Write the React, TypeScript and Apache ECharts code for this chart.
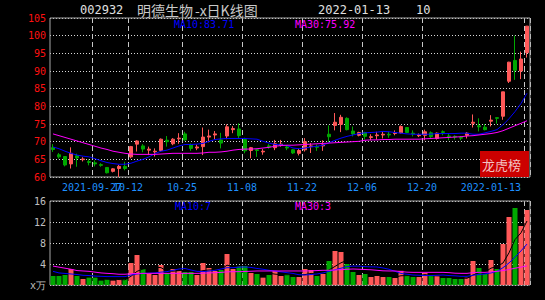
import React, { useEffect, useRef } from 'react';
import * as echarts from 'echarts';

const dates = [
  '2021-09-14','2021-09-15','2021-09-16','2021-09-17','2021-09-22','2021-09-23','2021-09-24','2021-09-27','2021-09-28','2021-09-29','2021-09-30',
  '2021-10-08','2021-10-11','2021-10-12','2021-10-13','2021-10-14','2021-10-15','2021-10-18','2021-10-19','2021-10-20','2021-10-21','2021-10-22','2021-10-25','2021-10-26','2021-10-27','2021-10-28','2021-10-29',
  '2021-11-01','2021-11-02','2021-11-03','2021-11-04','2021-11-05','2021-11-08','2021-11-09','2021-11-10','2021-11-11','2021-11-12','2021-11-15','2021-11-16','2021-11-17','2021-11-18','2021-11-19','2021-11-22','2021-11-23','2021-11-24','2021-11-25','2021-11-26','2021-11-29','2021-11-30',
  '2021-12-01','2021-12-02','2021-12-03','2021-12-06','2021-12-07','2021-12-08','2021-12-09','2021-12-10','2021-12-13','2021-12-14','2021-12-15','2021-12-16','2021-12-17','2021-12-20','2021-12-21','2021-12-22','2021-12-23','2021-12-24','2021-12-27','2021-12-28','2021-12-29','2021-12-30','2021-12-31',
  '2022-01-04','2022-01-05','2022-01-06','2022-01-07','2022-01-10','2022-01-11','2022-01-12','2022-01-13'
];

const tickDates = ['2021-09-27','2021-10-12','2021-10-25','2021-11-08','2021-11-22','2021-12-06','2021-12-20','2022-01-13'];
const tickLabels = ['2021-09-27','10-12','10-25','11-08','11-22','12-06','12-20','2022-01-13'];

const opens = [
  68.3,66.3,65.8,63.7,66.0,64.9,64.4,64.0,63.5,62.7,
  61.6,62.4,63.0,65.7,69.3,68.8,67.6,67.1,67.5,70.4,
  69.4,70.8,72.2,69.1,68.2,68.6,71.3,71.9,70.5,71.6,
  73.4,73.6,70.6,67.5,67.7,67.1,68.8,68.3,69.0,68.5,
  67.7,66.7,67.7,68.6,68.6,68.8,72.1,74.6,74.9,76.6,
  73.0,71.8,72.6,71.2,71.7,71.9,72.1,72.3,72.5,74.0,
  72.4,71.7,71.8,72.5,70.9,72.8,71.6,71.5,71.2,71.8,
  75.2,74.5,74.1,75.8,76.8,77.2,87.1,93.0,90.0,95.2
];
const closes = [
  67.8,65.7,63.4,66.7,65.4,65.1,64.1,63.7,63.3,61.2,
  62.3,63.0,62.4,68.6,70.2,67.9,67.9,67.3,70.7,70.0,
  70.7,71.0,70.5,68.1,68.5,71.3,71.6,72.2,69.6,74.2,
  73.7,71.7,67.4,68.3,67.5,67.3,68.5,69.4,69.3,68.2,
  66.8,67.5,70.0,68.8,68.4,69.1,71.4,75.5,76.9,73.4,
  72.2,72.6,71.5,71.4,71.9,72.1,71.9,72.5,74.3,72.6,
  72.2,71.9,72.8,71.4,72.4,72.6,71.4,71.3,71.0,72.4,
  75.5,74.2,73.4,76.1,76.6,84.1,92.5,90.2,93.4,102.7
];
const lows = [
  67.1,65.2,63.0,62.4,62.9,64.4,63.3,63.0,62.9,61.0,
  61.3,60.0,61.9,65.3,67.2,67.0,66.2,65.8,67.2,68.6,
  69.0,69.4,70.3,67.4,67.6,66.2,69.8,70.6,68.1,70.7,
  72.4,70.9,66.7,65.3,65.7,66.3,68.0,67.6,68.6,67.6,
  66.5,66.1,67.2,66.8,67.4,67.4,69.9,73.2,72.7,73.2,
  71.5,71.5,70.6,70.4,70.6,70.9,71.1,71.8,72.3,72.4,
  71.5,71.3,70.4,70.9,70.6,71.8,70.4,70.6,70.4,70.9,
  74.0,72.9,73.2,74.3,75.1,76.2,86.6,87.5,87.7,93.8
];
const highs = [
  69.3,66.8,65.9,68.4,66.6,65.6,65.0,64.7,63.9,62.8,
  62.5,63.4,64.3,68.8,70.4,69.3,68.6,68.1,70.9,71.6,
  71.0,72.4,72.8,69.5,69.2,74.0,73.4,73.0,72.5,74.9,
  74.4,75.2,71.1,68.5,67.9,67.9,69.3,70.5,70.5,69.0,
  67.9,68.0,71.0,69.6,69.2,70.4,74.6,78.1,77.6,76.9,
  74.3,72.8,72.8,72.1,72.8,72.8,72.8,73.2,74.6,74.1,
  73.2,72.3,73.4,72.9,72.6,73.2,72.2,71.8,71.6,72.7,
  77.7,76.6,75.0,77.5,76.9,84.1,92.6,100.0,95.5,102.7
];
const priceMa10 = [
  68.5,68.0,67.3,66.7,66.2,65.9,65.7,65.2,64.6,64.1,
  63.8,63.6,63.6,63.9,64.5,65.0,65.7,66.6,67.3,67.6,
  68.2,68.8,69.2,69.2,69.3,69.5,70.1,70.6,70.8,70.9,
  70.9,70.9,70.9,70.8,70.7,70.1,69.6,69.2,69.1,68.9,
  68.2,68.0,68.2,68.5,68.7,69.0,69.7,70.4,71.0,71.5,
  71.9,72.3,72.5,72.6,72.7,72.9,72.8,72.6,72.4,72.2,
  72.1,72.1,72.1,72.1,72.3,72.3,72.3,72.3,72.4,72.4,
  72.1,72.1,72.5,72.9,73.4,74.8,76.5,78.5,80.8,83.7
];
const priceMa30 = [
  72.2,71.7,71.2,70.7,70.2,69.7,69.2,68.7,68.2,67.8,
  67.3,67.0,66.7,66.5,66.4,66.4,66.4,66.4,66.5,66.6,
  66.7,66.7,66.7,66.7,66.7,66.8,67.0,67.0,67.1,67.3,
  67.6,67.8,67.9,67.9,68.0,68.2,68.4,68.7,68.9,69.0,
  69.0,69.1,69.2,69.3,69.4,69.5,69.6,69.7,69.8,69.9,
  70.0,70.1,70.4,70.5,70.5,70.6,70.6,70.7,70.7,70.7,
  70.7,70.7,70.8,70.9,71.0,71.1,71.2,71.3,71.4,71.6,
  71.7,71.9,72.1,72.3,72.6,73.1,73.8,74.5,75.2,75.92
];
const volumes = [
  1.71,1.71,1.9,3.05,1.71,1.14,1.4,1.4,0.83,1.02,
  0.83,1.14,1.14,4.19,5.71,3.05,2.1,1.9,3.81,2.29,
  3.05,2.67,2.48,2.48,1.9,4.19,3.24,2.67,2.86,5.9,
  3.05,3.62,3.62,2.29,2.1,1.4,1.9,2.67,1.71,2.1,
  1.52,1.52,3.05,2.86,1.71,2.1,4.57,6.48,6.29,4.0,
  2.48,1.9,2.1,1.52,1.71,1.52,1.52,1.33,2.7,1.9,
  1.52,1.52,2.29,1.71,1.71,1.33,1.33,1.14,1.14,1.4,
  4.57,3.24,2.1,4.76,3.05,7.81,12.95,14.67,11.24,14.29
];
const volMa10 = [
  2.6,2.3,2.2,2.1,2.0,1.85,1.8,1.7,1.65,1.6,
  1.6,1.6,1.6,1.9,2.1,2.2,2.25,2.3,2.45,2.55,
  2.8,3.05,3.15,2.85,2.6,2.55,2.65,2.8,3.05,3.3,
  3.3,3.4,3.43,3.35,3.15,3.0,2.8,2.65,2.5,2.35,
  2.2,1.95,1.9,2.0,2.1,2.3,2.6,2.9,3.2,3.5,
  3.6,3.6,3.5,3.45,3.43,3.25,3.0,2.6,2.2,2.05,
  1.9,1.85,1.8,1.8,1.85,1.9,1.8,1.75,1.65,1.65,
  1.85,2.0,2.1,2.3,2.6,3.3,4.2,5.3,6.5,7.8
];
const volMa30 = [
  3.6,3.4,3.2,3.0,2.75,2.67,2.6,2.45,2.3,2.22,
  2.15,2.05,2.05,2.15,2.2,2.22,2.22,2.22,2.22,2.22,
  2.22,2.22,2.22,2.22,2.22,2.25,2.3,2.35,2.4,2.5,
  2.54,2.54,2.58,2.62,2.67,2.67,2.67,2.67,2.67,2.67,
  2.67,2.67,2.67,2.7,2.75,2.8,2.8,2.85,2.92,3.0,
  3.05,3.0,2.95,2.9,2.8,2.7,2.67,2.67,2.55,2.45,
  2.41,2.41,2.41,2.41,2.41,2.41,2.35,2.25,2.22,2.22,
  2.35,2.41,2.41,2.5,2.6,2.75,2.95,3.2,3.4,3.65
];

const UP = '#ff5858';
const DOWN = '#00a800';
const MONO = '"DejaVu Sans Mono", monospace';
const CJK = '"Noto Sans CJK SC", sans-serif';

export default function App() {
  const ref = useRef<HTMLDivElement>(null);
  useEffect(() => {
    document.body.style.margin = '0';
    document.body.style.background = '#000';
    const chart = echarts.init(ref.current!, null, { renderer: 'svg' });
    const candleData = opens.map((o, i) => [o, closes[i], lows[i], highs[i]]);
    const volData = volumes.map((v, i) => ({
      value: v,
      itemStyle: { color: closes[i] >= opens[i] ? UP : DOWN },
    }));
    const volMa5 = volumes.map((_, i) => {
      if (i < 4) return null;
      let s = 0;
      for (let k = i - 4; k <= i; k++) s += volumes[k];
      return +(s / 5).toFixed(2);
    });
    const showTick = (_idx: number, val: string) => tickDates.includes(val);
    const firstTick = (_idx: number, val: string) => val === tickDates[0];
    const laterTick = (_idx: number, val: string) => val !== tickDates[0] && tickDates.includes(val);
    const vSplit = {
      show: true,
      interval: showTick,
      lineStyle: { color: '#c8c8c8', type: [5, 3], width: 1 },
    };
    const hSplit = { show: true, lineStyle: { color: '#d8d8d8', type: [1, 2], width: 1 } };
    const labelFmt = (val: string) => {
      const k = tickDates.indexOf(val);
      return k >= 0 ? tickLabels[k] : '';
    };
    const labelBase = {
      hideOverlap: false,
      formatter: labelFmt,
      color: '#1e90ff', fontSize: 10, fontFamily: MONO, margin: 5,
      padding: [0, 6, 0, 0],
    };
    const option: any = {
      animation: false,
      backgroundColor: '#000',
      grid: [
        { left: 50, top: 18, width: 480, height: 159, show: true, borderColor: '#a8a8a8', borderWidth: 1, z: 1 },
        { left: 50, top: 201, width: 480, height: 84, show: true, borderColor: '#a8a8a8', borderWidth: 1, z: 1 },
      ],
      xAxis: [
        {
          type: 'category', gridIndex: 0, data: dates, boundaryGap: true,
          axisLine: { show: false }, axisTick: { show: false },
          axisLabel: { ...labelBase, interval: laterTick, alignMaxLabel: 'right' },
          splitLine: vSplit,
        },
        {
          type: 'category', gridIndex: 1, data: dates, boundaryGap: true,
          axisLine: { show: false }, axisTick: { show: false }, axisLabel: { show: false },
          splitLine: vSplit,
        },
        {
          type: 'category', gridIndex: 0, data: dates, boundaryGap: true, position: 'bottom',
          axisLine: { show: false }, axisTick: { show: false }, splitLine: { show: false },
          axisLabel: { ...labelBase, interval: firstTick },
        },
      ],
      yAxis: [
        {
          type: 'value', gridIndex: 0, min: 60, max: 105, interval: 5,
          axisLine: { show: false }, axisTick: { show: false },
          axisLabel: { color: '#ff1010', fontSize: 10, fontFamily: MONO, margin: 4 },
          splitLine: hSplit,
        },
        {
          type: 'value', gridIndex: 1, min: 0, max: 16, interval: 4,
          axisLine: { show: false }, axisTick: { show: false },
          axisLabel: {
            color: '#c0c0c0', fontSize: 10, fontFamily: MONO, margin: 4,
            formatter: (v: number) => (v === 0 ? 'x万' : String(v)),
          },
          splitLine: hSplit,
        },
      ],
      series: [
        {
          type: 'candlestick', xAxisIndex: 0, yAxisIndex: 0, data: candleData, barWidth: 4,
          itemStyle: { color: UP, color0: DOWN, borderColor: UP, borderColor0: DOWN, borderWidth: 1 },
        },
        { type: 'line', xAxisIndex: 0, yAxisIndex: 0, data: priceMa10, symbol: 'none', lineStyle: { color: '#0000ff', width: 1 } },
        { type: 'line', xAxisIndex: 0, yAxisIndex: 0, data: priceMa30, symbol: 'none', lineStyle: { color: '#ff00ff', width: 1 } },
        { type: 'bar', xAxisIndex: 1, yAxisIndex: 1, data: volData, barWidth: 5 },
        { type: 'line', xAxisIndex: 1, yAxisIndex: 1, data: volMa5, symbol: 'none', lineStyle: { color: '#000000', width: 1 } },
        { type: 'line', xAxisIndex: 1, yAxisIndex: 1, data: volMa10, symbol: 'none', lineStyle: { color: '#0000ff', width: 1 } },
        { type: 'line', xAxisIndex: 1, yAxisIndex: 1, data: volMa30, symbol: 'none', lineStyle: { color: '#ff00ff', width: 1 } },
      ],
      graphic: [
        { type: 'text', x: 80, y: 10, style: { text: '002932', fill: '#e0e0e0', font: `12px ${MONO}`, verticalAlign: 'middle' } },
        { type: 'text', x: 137, y: 10, style: { text: '明德生物', fill: '#c8c8c8', font: `14px ${CJK}`, verticalAlign: 'middle' } },
        { type: 'text', x: 195, y: 10, style: { text: '-x日K线图', fill: '#c8c8c8', font: `14px ${CJK}`, verticalAlign: 'middle' } },
        { type: 'text', x: 318, y: 10, style: { text: '2022-01-13', fill: '#e0e0e0', font: `12px ${MONO}`, verticalAlign: 'middle' } },
        { type: 'text', x: 416, y: 10, style: { text: '10', fill: '#e0e0e0', font: `12px ${MONO}`, verticalAlign: 'middle' } },
        { type: 'text', x: 174, y: 24.5, z: 50, style: { text: 'MA10:83.71', fill: '#0000ff', font: `10px ${MONO}`, verticalAlign: 'middle' } },
        { type: 'text', x: 295, y: 24.5, z: 50, style: { text: 'MA30:75.92', fill: '#ff00ff', font: `10px ${MONO}`, verticalAlign: 'middle' } },
        { type: 'text', x: 175, y: 206, z: 50, style: { text: 'MA10:7', fill: '#0000ff', font: `10px ${MONO}`, verticalAlign: 'middle' } },
        { type: 'text', x: 295, y: 206, z: 50, style: { text: 'MA30:3', fill: '#ff00ff', font: `10px ${MONO}`, verticalAlign: 'middle' } },
        { type: 'rect', z: 60, shape: { x: 480, y: 151, width: 49, height: 26 }, style: { fill: '#cc0000' } },
        { type: 'text', z: 61, x: 482, y: 164, style: { text: '龙虎榜', fill: '#f2c4c4', font: `13px ${CJK}`, verticalAlign: 'middle' } },
      ],
    };
    chart.setOption(option);
    return () => chart.dispose();
  }, []);
  return (
    <div
      ref={ref}
      style={{ position: 'fixed', left: 0, top: 0, width: 545, height: 300, background: '#000' }}
    />
  );
}
